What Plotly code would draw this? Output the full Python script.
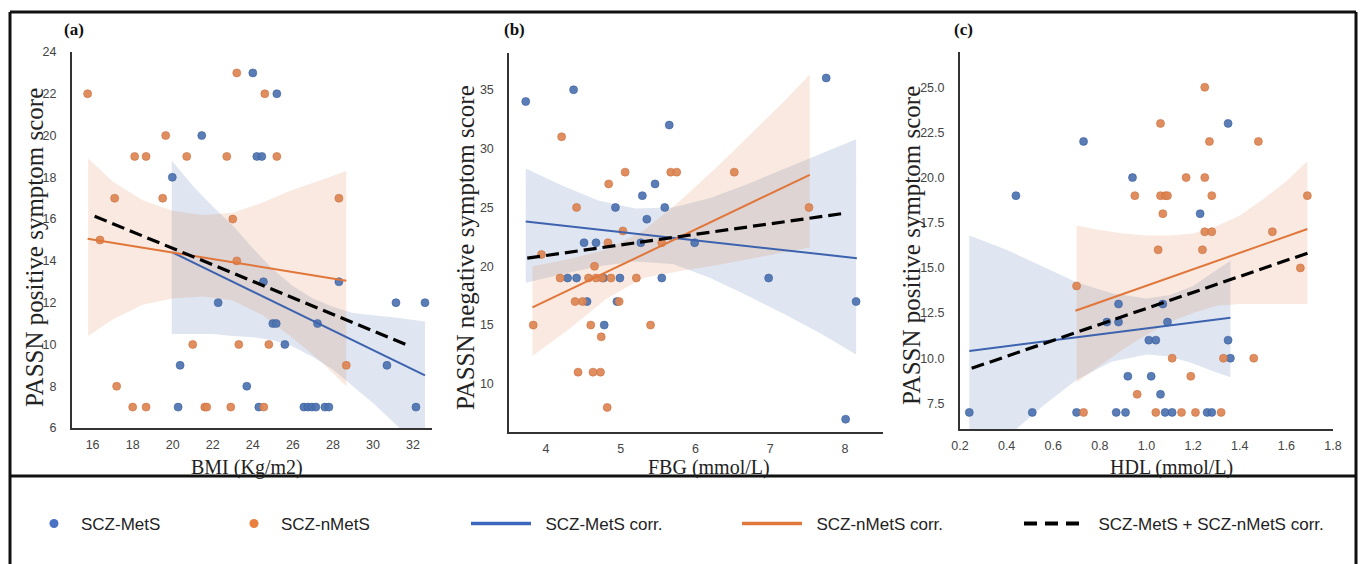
import plotly.graph_objects as go

W, H = 1361, 564

# ---------------- data ----------------
# Panel (a): BMI vs PASSN positive
a_blue_x = [24.0, 25.2, 21.45, 24.2, 24.45, 19.98, 24.53, 28.3, 22.27, 31.15, 32.6, 25.0, 25.17, 27.23, 25.6,
            20.37, 30.7, 23.7, 20.27, 24.3, 26.55, 26.75, 26.95, 27.15, 27.6, 27.8, 32.15]
a_blue_y = [23, 22, 20, 19, 19, 18, 13, 13, 12, 12, 12, 11, 11, 11, 10, 9, 9, 8, 7, 7, 7, 7, 7, 7, 7, 7, 7]
a_org_x = [15.75, 16.37, 17.1, 17.2, 18.0, 18.1, 18.67, 18.67, 19.5, 19.65, 20.7, 21.0, 21.6, 21.7, 22.7,
           22.9, 23.0, 23.2, 23.2, 23.3, 24.55, 24.6, 24.8, 25.2, 28.3, 28.67]
a_org_y = [22, 15, 17, 8, 7, 19, 19, 7, 17, 20, 19, 10, 7, 7, 19, 7, 16, 23, 14, 10, 7, 22, 10, 19, 17, 9]

a_fit_blue_x, a_fit_blue_y = [20.0, 32.6], [14.4, 8.52]
a_fit_org_x, a_fit_org_y = [15.75, 28.67], [15.06, 13.05]
a_fit_all_x, a_fit_all_y = [16.1, 31.78], [16.14, 9.95]

a_band_blue_x = [19.95, 21, 22, 23, 24, 25, 26, 27, 28, 29, 30, 31, 32.6]
a_band_blue_hi = [18.8, 17.6, 16.6, 15.7, 14.6, 13.6, 12.8, 12.2, 11.8, 11.5, 11.4, 11.3, 11.1]
a_band_blue_lo = [10.5, 10.5, 10.5, 10.4, 10.35, 10.2, 9.9, 9.4, 8.8, 8.0, 7.2, 6.3, 4.8]
a_band_org_x = [15.78, 17, 18.5, 20, 21.5, 23, 24.5, 26, 27.5, 28.67]
a_band_org_hi = [18.9, 17.8, 16.9, 16.4, 16.2, 16.3, 16.8, 17.4, 17.9, 18.3]
a_band_org_lo = [10.4, 11.2, 11.9, 12.2, 12.3, 12.1, 11.4, 10.3, 9.1, 8.0]

# Panel (b): FBG vs PASSN negative
b_blue_x = [3.73, 4.37, 5.65, 7.75, 5.46, 5.29, 4.93, 5.59, 5.35, 4.51, 4.67, 5.27, 5.99, 4.29, 4.41, 4.77,
            4.99, 5.55, 6.98, 4.55, 4.95, 8.15, 4.78, 8.01]
b_blue_y = [34, 35, 32, 36, 27, 26, 25, 25, 24, 22, 22, 22, 22, 19, 19, 19, 19, 19, 19, 17, 17, 17, 15, 7]
b_org_x = [4.21, 5.06, 5.67, 5.75, 6.52, 4.84, 4.41, 7.52, 5.03, 3.94, 4.83, 5.55, 4.65, 4.19, 4.57, 4.67,
           4.75, 4.87, 5.21, 4.39, 4.49, 4.98, 3.83, 4.6, 5.40, 4.74, 4.43, 4.63, 4.73, 4.82]
b_org_y = [31, 28, 28, 28, 28, 27, 25, 25, 23, 21, 22, 22, 20, 19, 19, 19, 19, 19, 19, 17, 17, 17, 15, 15,
           15, 14, 11, 11, 11, 8]

b_fit_blue_x, b_fit_blue_y = [3.73, 8.16], [23.8, 20.69]
b_fit_org_x, b_fit_org_y = [3.82, 7.53], [16.5, 27.77]
b_fit_all_x, b_fit_all_y = [3.75, 8.0], [20.69, 24.51]

b_band_blue_x = [3.73, 4.2, 4.7, 5.2, 5.7, 6.2, 6.7, 7.2, 7.7, 8.15]
b_band_blue_hi = [28.3, 26.9, 25.6, 24.9, 25.0, 25.8, 27.0, 28.3, 29.6, 30.8]
b_band_blue_lo = [18.6, 19.3, 20.0, 20.4, 20.2, 19.0, 17.5, 15.9, 14.2, 12.5]
b_band_org_x = [3.82, 4.3, 4.8, 5.3, 5.8, 6.3, 6.8, 7.2, 7.53]
b_band_org_hi = [20.0, 20.6, 21.4, 23.0, 25.6, 28.5, 31.6, 34.1, 36.3]
b_band_org_lo = [12.4, 14.6, 17.2, 19.0, 19.6, 20.1, 20.7, 21.2, 21.6]

# Panel (c): HDL vs PASSN positive
c_blue_x = [0.24, 0.44, 0.51, 0.70, 0.73, 0.94, 0.88, 0.83, 0.88, 0.87, 0.91, 0.92, 1.02, 1.01, 1.04, 1.07,
            1.09, 1.06, 1.08, 1.11, 1.23, 1.35, 1.35, 1.36, 1.26, 1.28]
c_blue_y = [7, 19, 7, 7, 22, 20, 13, 12, 12, 7, 7, 9, 9, 11, 11, 13, 12, 8, 7, 7, 18, 23, 11, 10, 7, 7]
c_org_x = [1.25, 1.06, 1.27, 1.48, 1.17, 1.25, 0.95, 1.06, 1.08, 1.09, 1.28, 1.69, 1.07, 1.25, 1.28, 1.54,
           1.05, 1.24, 1.66, 0.70, 1.11, 1.33, 1.46, 1.19, 0.96, 0.73, 1.04, 1.15, 1.21, 1.32]
c_org_y = [25, 23, 22, 22, 20, 20, 19, 19, 19, 19, 19, 19, 18, 17, 17, 17, 16, 16, 15, 14, 10, 10, 10, 9, 8,
           7, 7, 7, 7, 7]

c_fit_blue_x, c_fit_blue_y = [0.24, 1.36], [10.4, 12.24]
c_fit_org_x, c_fit_org_y = [0.695, 1.69], [12.63, 17.15]
c_fit_all_x, c_fit_all_y = [0.25, 1.71], [9.44, 15.9]

c_band_blue_x = [0.24, 0.4, 0.55, 0.7, 0.85, 1.0, 1.1, 1.2, 1.28, 1.36]
c_band_blue_hi = [16.8, 16.0, 15.1, 14.2, 13.6, 13.3, 13.5, 14.0, 14.7, 15.4]
c_band_blue_lo = [4.0, 5.6, 7.3, 8.8, 9.8, 10.2, 10.1, 9.7, 9.3, 8.95]
c_band_org_x = [0.70, 0.8, 0.9, 1.0, 1.1, 1.2, 1.3, 1.4, 1.5, 1.6, 1.69]
c_band_org_hi = [17.35, 17.1, 16.9, 16.8, 16.8, 16.9, 17.3, 17.9, 18.8, 19.8, 20.9]
c_band_org_lo = [8.65, 9.6, 10.5, 11.3, 12.0, 12.5, 12.9, 13.0, 13.0, 13.0, 13.0]

panel_labels = ["(a)", "(b)", "(c)"]
x_titles = ["BMI (Kg/m2)", "FBG (mmol/L)", "HDL (mmol/L)"]
y_titles = ["PASSN positive symptom score", "PASSN negative symptom score", "PASSN positive symptom score"]
legend_names = ["SCZ-MetS", "SCZ-nMetS", "SCZ-MetS corr.", "SCZ-nMetS corr.", "SCZ-MetS + SCZ-nMetS corr."]

a_xticks = [16, 18, 20, 22, 24, 26, 28, 30, 32]
a_yticks = [6, 8, 10, 12, 14, 16, 18, 20, 22, 24]
b_xticks = [4, 5, 6, 7, 8]
b_yticks = [10, 15, 20, 25, 30, 35]
c_xticks = [0.2, 0.4, 0.6, 0.8, 1.0, 1.2, 1.4, 1.6, 1.8]
c_yticks = [7.5, 10.0, 12.5, 15.0, 17.5, 20.0, 22.5, 25.0]

# ---------------- style ----------------
BLUE_PT = "rgba(76,114,176,0.92)"
ORG_PT = "rgba(221,132,82,0.92)"
BLUE_LN = "#3d62ae"
ORG_LN = "#e0763a"
BLUE_BAND = "rgba(76,114,176,0.18)"
ORG_BAND = "rgba(221,132,82,0.18)"
SERIF = "Liberation Serif, Times New Roman, serif"
SANS = "Liberation Sans, Arial, sans-serif"

fig = go.Figure()

panels = [
    dict(xa="x", ya="y",
         bx=a_blue_x, by=a_blue_y, ox=a_org_x, oy=a_org_y,
         fb=(a_fit_blue_x, a_fit_blue_y), fo=(a_fit_org_x, a_fit_org_y), fa=(a_fit_all_x, a_fit_all_y),
         bb=(a_band_blue_x, a_band_blue_hi, a_band_blue_lo), bo=(a_band_org_x, a_band_org_hi, a_band_org_lo)),
    dict(xa="x2", ya="y2",
         bx=b_blue_x, by=b_blue_y, ox=b_org_x, oy=b_org_y,
         fb=(b_fit_blue_x, b_fit_blue_y), fo=(b_fit_org_x, b_fit_org_y), fa=(b_fit_all_x, b_fit_all_y),
         bb=(b_band_blue_x, b_band_blue_hi, b_band_blue_lo), bo=(b_band_org_x, b_band_org_hi, b_band_org_lo)),
    dict(xa="x3", ya="y3",
         bx=c_blue_x, by=c_blue_y, ox=c_org_x, oy=c_org_y,
         fb=(c_fit_blue_x, c_fit_blue_y), fo=(c_fit_org_x, c_fit_org_y), fa=(c_fit_all_x, c_fit_all_y),
         bb=(c_band_blue_x, c_band_blue_hi, c_band_blue_lo), bo=(c_band_org_x, c_band_org_hi, c_band_org_lo)),
]


def band_trace(bx, hi, lo, color, xa, ya):
    return go.Scatter(x=list(bx) + list(bx)[::-1], y=list(hi) + list(lo)[::-1],
                      fill="toself", fillcolor=color, line=dict(width=0), mode="lines",
                      hoverinfo="skip", showlegend=False, xaxis=xa, yaxis=ya)


for p in panels:
    xa, ya = p["xa"], p["ya"]
    fig.add_trace(band_trace(*p["bb"], BLUE_BAND, xa, ya))
    fig.add_trace(band_trace(*p["bo"], ORG_BAND, xa, ya))
    fig.add_trace(go.Scatter(x=p["bx"], y=p["by"], mode="markers", showlegend=False,
                             marker=dict(size=8, color=BLUE_PT, line=dict(width=0.6, color="#3a5f9e")),
                             xaxis=xa, yaxis=ya))
    fig.add_trace(go.Scatter(x=p["ox"], y=p["oy"], mode="markers", showlegend=False,
                             marker=dict(size=8, color=ORG_PT, line=dict(width=0.6, color="#c9703f")),
                             xaxis=xa, yaxis=ya))
    fig.add_trace(go.Scatter(x=p["fb"][0], y=p["fb"][1], mode="lines", showlegend=False,
                             line=dict(color=BLUE_LN, width=2), xaxis=xa, yaxis=ya))
    fig.add_trace(go.Scatter(x=p["fo"][0], y=p["fo"][1], mode="lines", showlegend=False,
                             line=dict(color=ORG_LN, width=2), xaxis=xa, yaxis=ya))
    fig.add_trace(go.Scatter(x=p["fa"][0], y=p["fa"][1], mode="lines", showlegend=False,
                             line=dict(color="black", width=3.2, dash="13px,6px"), xaxis=xa, yaxis=ya))

# legend-only traces, one legend each for exact placement
NB = "\u00a0\u00a0"
fig.add_trace(go.Scatter(x=[None], y=[None], mode="markers", name=legend_names[0], legend="legend",
                         marker=dict(size=9, color="#4a72c4")))
fig.add_trace(go.Scatter(x=[None], y=[None], mode="markers", name=legend_names[1], legend="legend2",
                         marker=dict(size=9, color="#e8803f")))
fig.add_trace(go.Scatter(x=[None], y=[None], mode="lines", name=NB + legend_names[2], legend="legend3",
                         line=dict(color="#3d66bf", width=3.5)))
fig.add_trace(go.Scatter(x=[None], y=[None], mode="lines", name=NB + legend_names[3], legend="legend4",
                         line=dict(color="#e0783c", width=3.5)))
fig.add_trace(go.Scatter(x=[None], y=[None], mode="lines", name=NB + legend_names[4], legend="legend5",
                         line=dict(color="black", width=4, dash="13px,8px")))

leg_y = 1 - 524 / H
leg_font = dict(family=SANS, size=17, color="#222")


def leg(xpx, itemwidth):
    return dict(x=xpx / W, y=leg_y, xanchor="left", yanchor="middle", orientation="h",
                bgcolor="rgba(0,0,0,0)", borderwidth=0, font=leg_font, itemwidth=itemwidth,
                itemsizing="trace")


def xaxis(domain, rng, ticks, fmt=None):
    d = dict(domain=domain, range=rng, tickvals=ticks, showgrid=False, zeroline=False,
             showline=True, linecolor="#333", linewidth=2, ticks="", automargin=False,
             tickfont=dict(family=SANS, size=12.5, color="#444"), ticklabelstandoff=4)
    if fmt:
        d["tickformat"] = fmt
    return d


def yaxis(domain, rng, ticks, fmt=None):
    d = dict(domain=domain, range=rng, tickvals=ticks, showgrid=False, zeroline=False,
             showline=True, linecolor="#333", linewidth=2, ticks="", automargin=False,
             tickfont=dict(family=SANS, size=12.5, color="#444"), ticklabelstandoff=11)
    if fmt:
        d["tickformat"] = fmt
    return d


dom = [  # pixel boxes: left, right, top, bottom
    (72, 432, 52, 428),
    (509.3, 883, 53.3, 431.7),
    (960, 1333, 51.7, 429),
]


def xd(b):
    return [b[0] / W, b[1] / W]


def yd(b):
    return [1 - b[3] / H, 1 - b[2] / H]


fig.update_layout(
    width=W, height=H, autosize=False,
    margin=dict(l=0, r=0, t=0, b=0, pad=0, autoexpand=False),
    paper_bgcolor="white", plot_bgcolor="white",
    xaxis=dict(**xaxis(xd(dom[0]), [14.97, 32.95], a_xticks), anchor="y"),
    yaxis=dict(**yaxis(yd(dom[0]), [6, 24], a_yticks), anchor="x"),
    xaxis2=dict(**xaxis(xd(dom[1]), [3.51, 8.51], b_xticks), anchor="y2"),
    yaxis2=dict(**yaxis(yd(dom[1]), [5.94, 38.1], b_yticks), anchor="x2"),
    xaxis3=dict(**xaxis(xd(dom[2]), [0.2, 1.8], c_xticks, ".1f"), anchor="y3"),
    yaxis3=dict(**yaxis(yd(dom[2]), [6.08, 26.97], c_yticks, ".1f"), anchor="x3"),
    legend=leg(27, 44),
    legend2=leg(227, 44),
    legend3=leg(466, 60),
    legend4=leg(737, 60),
    legend5=leg(1019, 60),
)

annotations = []
for lbl, xpx in zip(panel_labels, [62, 502, 952]):
    annotations.append(dict(text="<b>%s</b>" % lbl, x=xpx / W, y=1 - 29 / H, xref="paper", yref="paper",
                            xanchor="left", yanchor="middle", showarrow=False,
                            font=dict(family=SERIF, size=17, color="#111")))
for t, xpx in zip(x_titles, [247, 709, 1171]):
    annotations.append(dict(text=t, x=xpx / W, y=1 - 467 / H, xref="paper", yref="paper",
                            xanchor="center", yanchor="middle", showarrow=False,
                            font=dict(family=SERIF, size=20, color="#222")))
for t, xpx, ypx in zip(y_titles, [35, 466, 911], [248, 248, 246]):
    annotations.append(dict(text=t, x=xpx / W, y=1 - ypx / H, xref="paper", yref="paper",
                            xanchor="center", yanchor="middle", showarrow=False, textangle=-90,
                            font=dict(family=SERIF, size=25, color="#222")))
fig.update_layout(annotations=annotations)

frame = dict(color="#111", width=3)
shapes = [
    dict(type="line", xref="paper", yref="paper", x0=10 / W, x1=1356 / W, y0=1 - 12 / H, y1=1 - 12 / H, line=frame),
    dict(type="line", xref="paper", yref="paper", x0=10 / W, x1=1356 / W, y0=1 - 476 / H, y1=1 - 476 / H, line=frame),
    dict(type="line", xref="paper", yref="paper", x0=10 / W, x1=10 / W, y0=1 - 12 / H, y1=0, line=frame),
    dict(type="line", xref="paper", yref="paper", x0=1356 / W, x1=1356 / W, y0=1 - 12 / H, y1=0, line=frame),
]
fig.update_layout(shapes=shapes)

fig.write_html("out.html", config={"displayModeBar": False},
               post_script="document.body.style.margin='0';document.body.style.padding='0';"
                           "document.body.style.overflow='hidden';")
